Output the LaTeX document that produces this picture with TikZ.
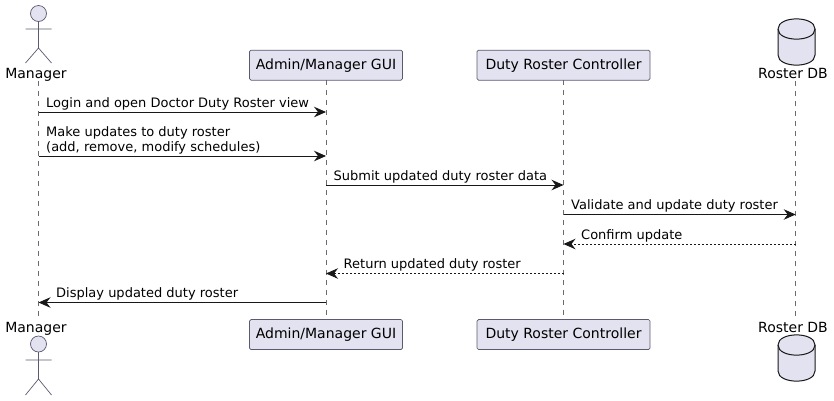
\documentclass[tikz,border=0pt]{standalone}
\usepackage{fontspec}
\setmainfont{DejaVu Sans}
\usetikzlibrary{arrows.meta}
\definecolor{partfill}{HTML}{E2E2F0}
\definecolor{partline}{HTML}{5A5A6E}
\definecolor{lifecol}{HTML}{6A6A72}
\definecolor{inkcol}{HTML}{181818}
\tikzset{
  partbox/.style={draw=partline,fill=partfill,rounded corners=1.5pt,line width=0.7pt,minimum height=30pt,inner sep=0pt,text=black,font=\fontsize{14}{16}\selectfont},
  actorlabel/.style={inner sep=0pt,text=black,font=\fontsize{14}{16}\selectfont,anchor=base},
  msgtext/.style={inner sep=0pt,text=black,font=\fontsize{13}{15}\selectfont,anchor=base west},
  lifeline/.style={draw=lifecol,line width=0.6pt,dash pattern=on 5pt off 5pt},
  msg/.style={draw=inkcol,line width=0.9pt,-{Stealth[length=12pt,width=10.5pt,inset=4pt,fill=inkcol]}},
  msgdash/.style={msg,line width=0.8pt,dash pattern=on 2pt off 2pt},
  actorline/.style={draw=partline,line width=0.7pt},
  actorhead/.style={draw=partline,fill=partfill,line width=0.7pt},
  dbshape/.style={draw=inkcol,fill=partfill,line width=1pt},
  dbline/.style={draw=inkcol,line width=1pt},
}
\begin{document}
\begin{tikzpicture}[x=1pt,y=-1pt]
\useasboundingbox (0,0) rectangle (834,400);
% lifelines
\coordinate (mt) at (38.5,81); \coordinate (mb) at (38.5,319);
\coordinate (at) at (326,80); \coordinate (ab) at (326,320);
\coordinate (ct) at (563.5,80); \coordinate (cb) at (563.5,320);
\coordinate (dt) at (795.7,81); \coordinate (db) at (795.7,319);
\draw[lifeline] (mt) -- (mb);
\draw[lifeline] (at) -- (ab);
\draw[lifeline] (ct) -- (cb);
\draw[lifeline] (dt) -- (db);
% participants
\node[partbox,minimum width=153pt] (adminT) at (326,65.2) {Admin/Manager GUI};
\node[partbox,minimum width=173pt] (ctrlT) at (563.5,65.2) {Duty Roster Controller};
\node[partbox,minimum width=153pt] (adminB) at (326,334.5) {Admin/Manager GUI};
\node[partbox,minimum width=173pt] (ctrlB) at (563.5,334.5) {Duty Roster Controller};
% actors
\node[actorlabel] (mgrT) at (36,78) {Manager};
\node[actorlabel] (mgrB) at (36,332) {Manager};
\draw[actorhead] (38.5,13.5) circle (8);
\draw[actorline] (38.5,21.5) -- (38.5,48) (25.5,29) -- (51.5,29) (25.5,63) -- (38.5,48) -- (51.5,63);
\draw[actorhead] (38.5,344) circle (8);
\draw[actorline] (38.5,352) -- (38.5,379) (25.5,360) -- (51.5,360) (25.5,395) -- (38.5,379) -- (51.5,395);
% databases
\node[actorlabel] (dbT) at (793,78) {Roster DB};
\node[actorlabel] (dbB) at (793,332) {Roster DB};
\draw[dbshape] (778,29) .. controls (778,15.5) and (815,15.5) .. (815,29) -- (815,55) .. controls (815,68.5) and (778,68.5) .. (778,55) -- cycle;
\draw[dbline] (778,29) .. controls (778,42.5) and (815,42.5) .. (815,29);
\draw[dbshape] (778,345) .. controls (778,331.5) and (815,331.5) .. (815,345) -- (815,371) .. controls (815,384.5) and (778,384.5) .. (778,371) -- cycle;
\draw[dbline] (778,345) .. controls (778,358.5) and (815,358.5) .. (815,345);
% message end points
\coordinate (m1a) at (38.5,112); \coordinate (m1b) at (326,112);
\coordinate (m2a) at (38.5,156); \coordinate (m2b) at (326,156);
\coordinate (m3a) at (326,185); \coordinate (m3b) at (563.5,185);
\coordinate (m4a) at (563.5,214.5); \coordinate (m4b) at (795.7,214.5);
\coordinate (m5a) at (795.7,244); \coordinate (m5b) at (563.5,244);
\coordinate (m6a) at (563.5,273.5); \coordinate (m6b) at (326,273.5);
\coordinate (m7a) at (326,302.5); \coordinate (m7b) at (38.5,302.5);
\draw[msg] (m1a) -- (m1b);
\draw[msg] (m2a) -- (m2b);
\draw[msg] (m3a) -- (m3b);
\draw[msg] (m4a) -- (m4b);
\draw[msgdash] (m5a) -- (m5b);
\draw[msgdash] (m6a) -- (m6b);
\draw[msg] (m7a) -- (m7b);
% labels
\node[msgtext] (t1) at (46,107) {Login and open Doctor Duty Roster view};
\node[msgtext] (t2a) at (46,136.5) {Make updates to duty roster};
\node[msgtext] (t2b) at (46,151.5) {(add, remove, modify schedules)};
\node[msgtext] (t3) at (333.5,180) {Submit updated duty roster data};
\node[msgtext] (t4) at (571,209.5) {Validate and update duty roster};
\node[msgtext] (t5) at (581,239) {Confirm update};
\node[msgtext] (t6) at (343.5,268.5) {Return updated duty roster};
\node[msgtext] (t7) at (56,297.5) {Display updated duty roster};
\end{tikzpicture}
\end{document}
